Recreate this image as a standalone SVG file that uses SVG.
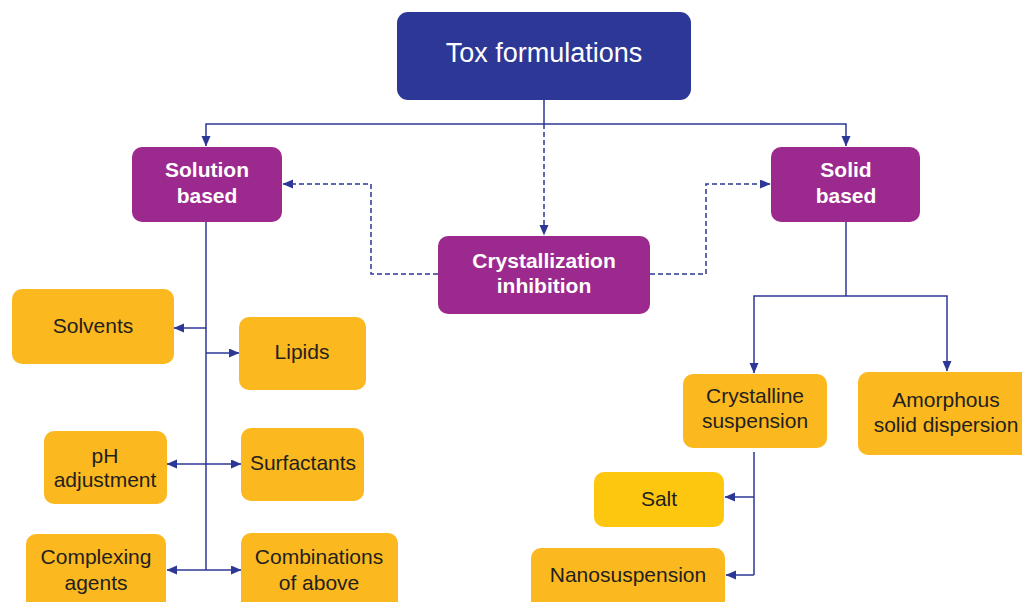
<svg xmlns="http://www.w3.org/2000/svg" width="1022" height="602" viewBox="0 0 1022 602">
  <defs>
    <marker id="arrow" markerUnits="userSpaceOnUse" markerWidth="11" markerHeight="10" refX="10" refY="4.5" orient="auto">
      <path d="M0,0 L10.5,4.5 L0,9 Z" fill="#2d3796"/>
    </marker>
  </defs>
  <style>
    .root { fill: #2d3796; }
    .cat { fill: #9c2a8e; }
    .item { fill: #fbb81f; }
    .salt { fill: #fec70f; }
    .t-root { font-family: "Liberation Sans", Arial, sans-serif; font-size: 27px; fill: #ffffff; text-anchor: middle; }
    .t-cat { font-family: "Liberation Sans", Arial, sans-serif; font-size: 21px; font-weight: bold; fill: #ffffff; text-anchor: middle; }
    .t-item { font-family: "Liberation Sans", Arial, sans-serif; font-size: 21px; fill: #231f20; text-anchor: middle; }
    .link { fill: none; stroke: #2d3796; stroke-width: 1.5; }
    .dash { fill: none; stroke: #2d3796; stroke-width: 1.5; stroke-dasharray: 5 3; }
  </style>

  <!-- connectors -->
  <g id="connectors">
    <path class="link" d="M544,100 V124"/>
    <path class="link" d="M544,124 H206 V146" marker-end="url(#arrow)"/>
    <path class="link" d="M544,124 H846 V146" marker-end="url(#arrow)"/>
    <path class="dash" d="M544,124 V235" marker-end="url(#arrow)"/>
    <path class="dash" d="M438,274 H371 V184 H283" marker-end="url(#arrow)"/>
    <path class="dash" d="M650,274 H706 V184 H770" marker-end="url(#arrow)"/>

    <!-- solution based branches -->
    <path class="link" d="M206,222 V570"/>
    <path class="link" d="M206,328 H174" marker-end="url(#arrow)"/>
    <path class="link" d="M206,353 H239" marker-end="url(#arrow)"/>
    <path class="link" d="M206,464 H167" marker-end="url(#arrow)"/>
    <path class="link" d="M206,464 H241" marker-end="url(#arrow)"/>
    <path class="link" d="M206,570 H167" marker-end="url(#arrow)"/>
    <path class="link" d="M206,570 H241" marker-end="url(#arrow)"/>

    <!-- solid based branches -->
    <path class="link" d="M846,222 V296"/>
    <path class="link" d="M846,296 H754 V373" marker-end="url(#arrow)"/>
    <path class="link" d="M846,296 H947 V371" marker-end="url(#arrow)"/>
    <path class="link" d="M754,452 V575"/>
    <path class="link" d="M754,497 H725" marker-end="url(#arrow)"/>
    <path class="link" d="M754,575 H726" marker-end="url(#arrow)"/>
  </g>

  <g id="tox-formulations">
    <rect class="root" x="397" y="12" width="294" height="88" rx="11"/>
    <text class="t-root" x="544" y="62">Tox formulations</text>
  </g>

  <g id="solution-based">
    <rect class="cat" x="132" y="147" width="150" height="75" rx="10"/>
    <text class="t-cat" x="207" y="177">Solution</text>
    <text class="t-cat" x="207" y="203">based</text>
  </g>

  <g id="solid-based">
    <rect class="cat" x="771" y="147" width="149" height="75" rx="10"/>
    <text class="t-cat" x="846" y="177">Solid</text>
    <text class="t-cat" x="846" y="203">based</text>
  </g>

  <g id="crystallization-inhibition">
    <rect class="cat" x="438" y="236" width="212" height="78" rx="10"/>
    <text class="t-cat" x="544" y="268">Crystallization</text>
    <text class="t-cat" x="544" y="293">inhibition</text>
  </g>

  <g id="solvents">
    <rect class="item" x="12" y="289" width="162" height="75" rx="10"/>
    <text class="t-item" x="93" y="333">Solvents</text>
  </g>

  <g id="lipids">
    <rect class="item" x="239" y="317" width="127" height="73" rx="10"/>
    <text class="t-item" x="302" y="359">Lipids</text>
  </g>

  <g id="ph-adjustment">
    <rect class="item" x="44" y="431" width="123" height="73" rx="10"/>
    <text class="t-item" x="105" y="463">pH</text>
    <text class="t-item" x="105" y="487">adjustment</text>
  </g>

  <g id="surfactants">
    <rect class="item" x="241" y="428" width="123" height="73" rx="10"/>
    <text class="t-item" x="303" y="470">Surfactants</text>
  </g>

  <g id="complexing-agents">
    <rect class="item" x="26" y="534" width="140" height="80" rx="10"/>
    <text class="t-item" x="96" y="564">Complexing</text>
    <text class="t-item" x="96" y="590">agents</text>
  </g>

  <g id="combinations">
    <rect class="item" x="241" y="533" width="157" height="80" rx="10"/>
    <text class="t-item" x="319" y="564">Combinations</text>
    <text class="t-item" x="319" y="590">of above</text>
  </g>

  <g id="crystalline-suspension">
    <rect class="item" x="683" y="374" width="144" height="74" rx="10"/>
    <text class="t-item" x="755" y="403">Crystalline</text>
    <text class="t-item" x="755" y="428">suspension</text>
  </g>

  <g id="amorphous-solid-dispersion">
    <rect class="item" x="858" y="372" width="180" height="83" rx="10"/>
    <text class="t-item" x="946" y="407">Amorphous</text>
    <text class="t-item" x="946" y="432">solid dispersion</text>
  </g>

  <g id="salt">
    <rect class="salt" x="594" y="472" width="130" height="55" rx="10"/>
    <text class="t-item" x="659" y="506">Salt</text>
  </g>

  <g id="nanosuspension">
    <rect class="item" x="531" y="548" width="194" height="66" rx="10"/>
    <text class="t-item" x="628" y="582">Nanosuspension</text>
  </g>
</svg>
